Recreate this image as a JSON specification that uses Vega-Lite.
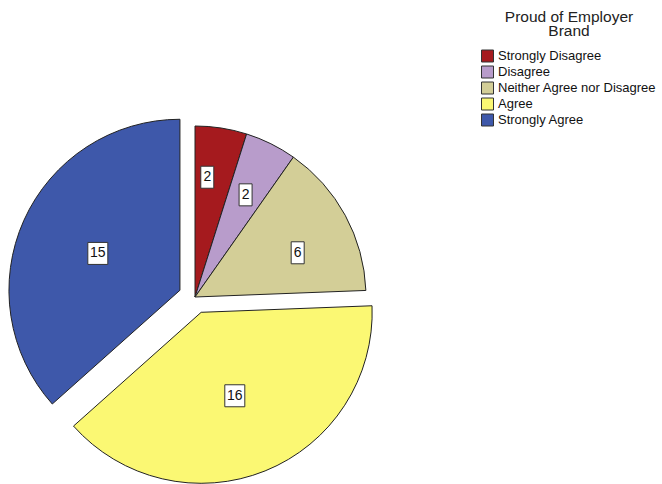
{
  "$schema": "https://vega.github.io/schema/vega-lite/v6.json",
  "width": 390,
  "height": 370,
  "autosize": {"type": "none"},
  "padding": {"left": 0, "top": 112, "right": 272, "bottom": 2},
  "background": "white",
  "config": {"view": {"stroke": null}},
  "data": {
    "values": [
      {"category": "Strongly Disagree", "count": 2},
      {"category": "Disagree", "count": 2},
      {"category": "Neither Agree nor Disagree", "count": 6},
      {"category": "Agree", "count": 16},
      {"category": "Strongly Agree", "count": 15}
    ]
  },
  "transform": [
    {"joinaggregate": [{"op": "sum", "field": "count", "as": "total"}]},
    {"stack": "count", "groupby": [], "as": ["s0", "s1"]}
  ],
  "layer": [
    {
      "mark": {
        "type": "arc",
        "outerRadius": 171,
        "stroke": "#222222",
        "strokeWidth": 1,
        "xOffset": {"expr": "(datum.category === 'Agree' || datum.category === 'Strongly Agree') ? 16.5 * sin(PI * (datum.s0 + datum.s1) / datum.total) : 0"},
        "yOffset": {"expr": "(datum.category === 'Agree' || datum.category === 'Strongly Agree') ? -16.5 * cos(PI * (datum.s0 + datum.s1) / datum.total) : 0"}
      },
      "encoding": {
        "theta": {"field": "s0", "type": "quantitative", "stack": null, "scale": {"domain": [0, 41]}},
        "theta2": {"field": "s1"},
        "color": {
          "field": "category",
          "type": "nominal",
          "scale": {
            "domain": ["Strongly Disagree", "Disagree", "Neither Agree nor Disagree", "Agree", "Strongly Agree"],
            "range": ["#A51A1E", "#B89CCB", "#D3CE97", "#FBF873", "#3E58AA"]
          },
          "legend": {
            "title": ["Proud of Employer", "Brand"],
            "orient": "none",
            "legendX": 481,
            "legendY": -102,
            "padding": 0,
            "titleFont": "Liberation Sans",
            "titleFontSize": 15.5,
            "titleFontWeight": "normal",
            "titleColor": "#222222",
            "titleAnchor": "middle",
            "titleAlign": "center",
            "titleLineHeight": 14,
            "titlePadding": 10,
            "labelFont": "Liberation Sans",
            "labelFontSize": 13,
            "labelColor": "#111111",
            "labelOffset": 4,
            "symbolType": "square",
            "symbolSize": 144,
            "symbolStrokeColor": "#333333",
            "symbolStrokeWidth": 1,
            "symbolOpacity": 1,
            "rowPadding": -1
          }
        }
      }
    },
    {
      "mark": {
        "type": "rect",
        "fill": "white",
        "stroke": "#333333",
        "strokeWidth": 1,
        "x": {"expr": "width / 2 + ((datum.category === 'Agree' || datum.category === 'Strongly Agree') ? 106.5 : datum.category === 'Strongly Disagree' ? 120.4 : datum.category === 'Neither Agree nor Disagree' ? 111.8 : 114) * sin(PI * (datum.s0 + datum.s1) / datum.total + (datum.category === 'Strongly Disagree' ? -0.051 : datum.category === 'Neither Agree nor Disagree' ? 0.0915 : 0)) - (datum.count >= 10 ? 10 : 6.5)"},
        "x2": {"expr": "width / 2 + ((datum.category === 'Agree' || datum.category === 'Strongly Agree') ? 106.5 : datum.category === 'Strongly Disagree' ? 120.4 : datum.category === 'Neither Agree nor Disagree' ? 111.8 : 114) * sin(PI * (datum.s0 + datum.s1) / datum.total + (datum.category === 'Strongly Disagree' ? -0.051 : datum.category === 'Neither Agree nor Disagree' ? 0.0915 : 0)) + (datum.count >= 10 ? 10 : 6.5)"},
        "y": {"expr": "height / 2 - ((datum.category === 'Agree' || datum.category === 'Strongly Agree') ? 106.5 : datum.category === 'Strongly Disagree' ? 120.4 : datum.category === 'Neither Agree nor Disagree' ? 111.8 : 114) * cos(PI * (datum.s0 + datum.s1) / datum.total + (datum.category === 'Strongly Disagree' ? -0.051 : datum.category === 'Neither Agree nor Disagree' ? 0.0915 : 0)) - 11"},
        "y2": {"expr": "height / 2 - ((datum.category === 'Agree' || datum.category === 'Strongly Agree') ? 106.5 : datum.category === 'Strongly Disagree' ? 120.4 : datum.category === 'Neither Agree nor Disagree' ? 111.8 : 114) * cos(PI * (datum.s0 + datum.s1) / datum.total + (datum.category === 'Strongly Disagree' ? -0.051 : datum.category === 'Neither Agree nor Disagree' ? 0.0915 : 0)) + 11"}
      },
      "encoding": {}
    },
    {
      "mark": {
        "type": "text",
        "font": "Liberation Sans",
        "fontSize": 14,
        "fill": "#111111",
        "align": "center",
        "baseline": "middle",
        "theta": {"expr": "PI * (datum.s0 + datum.s1) / datum.total + (datum.category === 'Strongly Disagree' ? -0.051 : datum.category === 'Neither Agree nor Disagree' ? 0.0915 : 0)"},
        "radius": {"expr": "(datum.category === 'Agree' || datum.category === 'Strongly Agree') ? 106.5 : datum.category === 'Strongly Disagree' ? 120.4 : datum.category === 'Neither Agree nor Disagree' ? 111.8 : 114"}
      },
      "encoding": {
        "text": {"field": "count", "type": "quantitative"}
      }
    }
  ]
}
